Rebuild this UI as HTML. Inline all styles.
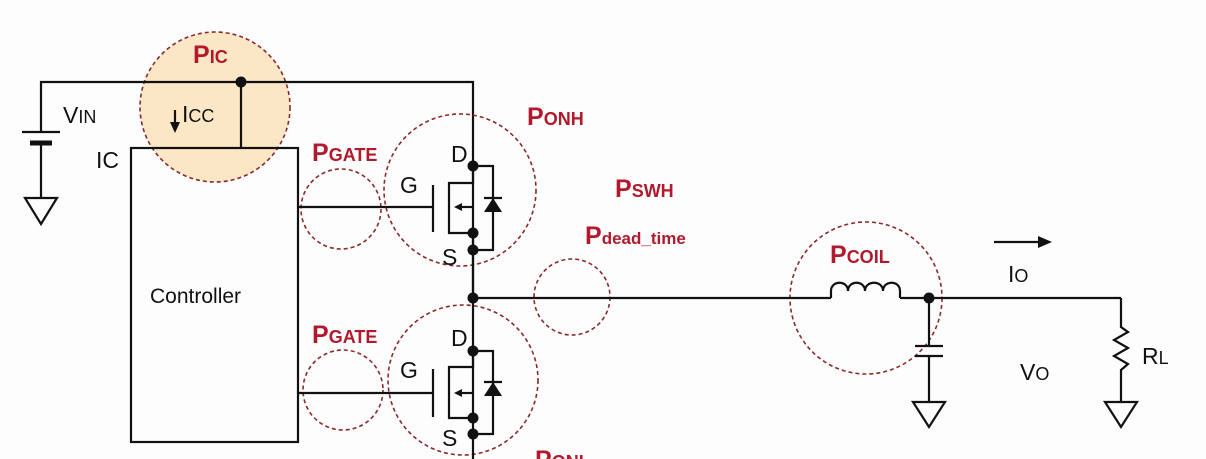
<!DOCTYPE html>
<html><head><meta charset="utf-8"><style>
html,body{margin:0;padding:0;background:#fff;}
svg{display:block;}
text{font-family:"Liberation Sans",sans-serif;}
.r{fill:#b01a2c;font-weight:bold;}
.k{fill:#111;}
</style></head><body>
<svg width="1206" height="459" viewBox="0 0 1206 459" xmlns="http://www.w3.org/2000/svg">
<rect width="1206" height="459" fill="#fdfdfe"/>
<circle cx="215" cy="107" r="75" fill="#fbe6c6" stroke="#8a2a2a" stroke-width="1.6" stroke-dasharray="4,3"/>
<g stroke="#111" stroke-width="2.2" fill="none">
<polyline points="41,132 41,82 473,82 473,298"/>
<line x1="241" y1="82" x2="241" y2="148"/>
<rect x="131" y="148" width="167" height="294"/>
<line x1="22" y1="132" x2="60" y2="132"/>
<line x1="30" y1="143" x2="52" y2="143" stroke-width="5"/>
<line x1="41" y1="143" x2="41" y2="198"/>
<polygon points="25,198 57,198 41,224"/>
<line x1="175" y1="110" x2="175" y2="128"/>
</g>
<polygon points="170,122 180,122 175,133" fill="#111"/>
<circle cx="241" cy="82" r="5.5" fill="#111"/>

<g fill="none" stroke="#8a2a2a" stroke-width="1.6" stroke-dasharray="4,3">
<circle cx="460" cy="190" r="76"/>
<circle cx="341" cy="209" r="40"/>
<circle cx="463" cy="380" r="75"/>
<circle cx="343" cy="390" r="40"/>
<circle cx="572" cy="297" r="38"/>
<circle cx="866" cy="298" r="76"/>
</g>

<g stroke="#111" stroke-width="2.2" fill="none">
<line x1="298" y1="207" x2="433" y2="207"/>
<line x1="433" y1="185" x2="433" y2="232"/>
<polyline points="473,166 473,183 449,183 449,233 473,233 473,459"/>
<line x1="473" y1="207" x2="460" y2="207"/>
<polyline points="473,166 493,166 493,250 473,250"/>
<line x1="484" y1="198" x2="502" y2="198"/>
<line x1="473" y1="298" x2="1121" y2="298"/>
<line x1="298" y1="393" x2="433" y2="393"/>
<line x1="433" y1="369" x2="433" y2="417"/>
<polyline points="473,351 473,367 449,367 449,418 473,418"/>
<line x1="473" y1="393" x2="460" y2="393"/>
<polyline points="473,351 493,351 493,434 473,434"/>
<line x1="484" y1="382" x2="502" y2="382"/>
</g>
<g fill="#111">
<polygon points="484,212 502,212 493,198"/>
<polygon points="484,396 502,396 493,382"/>
<polygon points="454,207 462,203 462,211"/>
<polygon points="454,393 462,389 462,397"/>
<circle cx="473" cy="166" r="5.5"/><circle cx="473" cy="233" r="5.5"/><circle cx="473" cy="250" r="5.5"/>
<circle cx="473" cy="298" r="5.5"/>
<circle cx="473" cy="351" r="5.5"/><circle cx="473" cy="418" r="5.5"/><circle cx="473" cy="434" r="5.5"/>
<circle cx="929" cy="298" r="5.5"/>
</g>

<rect x="831" y="290" width="69" height="10" fill="#fdfdfe"/>
<g stroke="#111" stroke-width="2.2" fill="none">
<path d="M831,298 L831,291 C831,280 848,280 848,291 C848,280 865,280 865,291 C865,280 883,280 883,291 C883,280 900,280 900,291 L900,298"/>
<line x1="929" y1="298" x2="929" y2="346"/>
<line x1="915" y1="346" x2="943" y2="346"/>
<line x1="915" y1="356" x2="943" y2="356"/>
<line x1="929" y1="356" x2="929" y2="402"/>
<polygon points="913,402 945,402 929,427"/>
<polyline points="1121,298 1121,327 1128,332 1114,340 1128,348 1114,356 1128,364 1121,370 1121,402"/>
<polygon points="1105,402 1137,402 1121,427"/>
<line x1="994" y1="242" x2="1040" y2="242"/>
</g>
<polygon points="1038,236 1052,242 1038,248" fill="#111"/>

<g class="k" font-size="23">
<text x="63" y="123">V<tspan font-size="18">IN</tspan></text>
<text x="96" y="168">IC</text>
<text x="182" y="122">I<tspan font-size="18">CC</tspan></text>
<text x="150" y="303" font-size="21">Controller</text>
<text x="400" y="193">G</text>
<text x="451" y="162">D</text>
<text x="442" y="265">S</text>
<text x="400" y="378">G</text>
<text x="451" y="346">D</text>
<text x="442" y="446">S</text>
<text x="1008" y="282">I<tspan font-size="18">O</tspan></text>
<text x="1020" y="380">V<tspan font-size="18">O</tspan></text>
<text x="1142" y="364">R<tspan font-size="18">L</tspan></text>
</g>
<g class="r" font-size="25">
<text x="193" y="63">P<tspan font-size="18">IC</tspan></text>
<text x="527" y="125">P<tspan font-size="18">ONH</tspan></text>
<text x="312" y="161">P<tspan font-size="18">GATE</tspan></text>
<text x="312" y="343">P<tspan font-size="18">GATE</tspan></text>
<text x="615" y="197">P<tspan font-size="18">SWH</tspan></text>
<text x="585" y="244">P<tspan font-size="17">dead_time</tspan></text>
<text x="830" y="263">P<tspan font-size="18">COIL</tspan></text>
<text x="535" y="468">P<tspan font-size="18">ONL</tspan></text>
</g>
</svg>
</body></html>
